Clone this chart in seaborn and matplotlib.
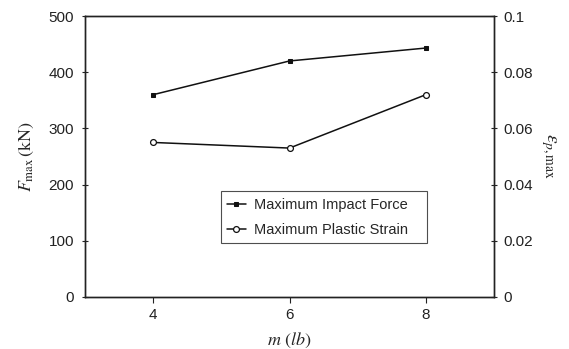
import matplotlib
matplotlib.use("Agg")
import matplotlib.pyplot as plt
import seaborn as sns
import pandas as pd

mass = [4, 6, 8]
impact_force = [360, 420, 443]
plastic_strain = [0.055, 0.053, 0.072]
left_ticks = [0, 100, 200, 300, 400, 500]
right_ticks = [0, 0.02, 0.04, 0.06, 0.08, 0.1]
right_tick_labels = ["0", "0.02", "0.04", "0.06", "0.08", "0.1"]
x_ticks = [4, 6, 8]

sns.set_theme(style="white")
plt.rcParams['font.family'] = ['Liberation Sans', 'DejaVu Sans']
plt.rcParams['mathtext.fontset'] = 'stix'

df = pd.DataFrame({"m": mass, "F": impact_force, "eps": plastic_strain})

fig = plt.figure(figsize=(5.69, 3.49), dpi=100)
ax = fig.add_axes([85/569, 1-297/349, (494-85)/569, (297-16)/349])
ax2 = ax.twinx()

sns.lineplot(data=df, x="m", y="F", ax=ax, color="#111111", lw=1.1,
             marker="s", markersize=3.3, markeredgecolor="#111111",
             markerfacecolor="#111111", label="Maximum Impact Force", legend=False)
sns.lineplot(data=df, x="m", y="eps", ax=ax2, color="#111111", lw=1.1,
             marker="o", markersize=4.2, markeredgecolor="#111111",
             markerfacecolor="white", markeredgewidth=0.9,
             label="Maximum Plastic Strain", legend=False)

ax.set_xlim(3, 9)
ax.set_ylim(0, 500)
ax2.set_ylim(0, 0.1)
ax.set_xticks(x_ticks)
ax.set_yticks(left_ticks)
ax2.set_yticks(right_ticks)
ax2.set_yticklabels(right_tick_labels)

for a in (ax, ax2):
    for s in a.spines.values():
        s.set_visible(True)
        s.set_color("#222222")
        s.set_linewidth(1.0)
    a.grid(False)

ax.tick_params(axis='y', direction='inout', length=5, width=0.8, color='#222222',
               labelsize=11, pad=5.5, left=True, labelcolor='#222222')
ax.tick_params(axis='x', direction='out', length=4, width=0.8, color='#222222',
               labelsize=11, pad=4, bottom=True, labelcolor='#222222')
ax2.tick_params(axis='y', direction='inout', length=5, width=0.8, color='#222222',
                labelsize=11, pad=4, right=True, labelcolor='#222222')

ax.set_xlabel(r"$m\ (lb)$", fontsize=13, labelpad=6)
ax.set_ylabel(r"$F_{\mathrm{max}}\,(\mathrm{kN})$", fontsize=13, labelpad=9)
ax2.set_ylabel(r"$\varepsilon_{p,\mathrm{max}}$", fontsize=14, rotation=270, labelpad=18)

h1, l1 = ax.get_legend_handles_labels()
h2, l2 = ax2.get_legend_handles_labels()
leg = ax2.legend(h1 + h2, l1 + l2, loc="lower left",
                 bbox_to_anchor=(0.332, 0.191, 0.505, 0.192), mode="expand",
                 borderaxespad=0.0,
                 frameon=True, fancybox=False, edgecolor="#222222", fontsize=10.5,
                 handlelength=1.25, handletextpad=0.55, borderpad=0.45,
                 labelspacing=0.75)
leg.get_frame().set_linewidth(0.8)

fig.savefig("out.png", dpi=100)
